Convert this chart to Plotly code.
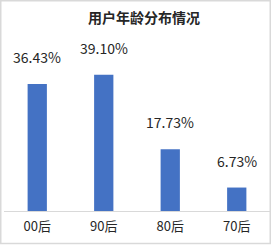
import plotly.graph_objects as go

categories = ["00后", "90后", "80后", "70后"]
values = [36.43, 39.10, 17.73, 6.73]
labels = ["36.43%", "39.10%", "17.73%", "6.73%"]
title_text = "用户年龄分布情况"

W, H = 273, 245
ML, MR, MT, MB = 4, 3, 40, 34
font_family = "Microsoft YaHei, Noto Sans CJK SC, sans-serif"

fig = go.Figure()
fig.add_trace(go.Bar(
    x=categories, y=values,
    marker=dict(color="#4472C4", line=dict(width=0)),
    width=0.29,
    hoverinfo="skip",
))

for c, v, t in zip(categories, values, labels):
    fig.add_annotation(
        x=c, y=v, xref="x", yref="y", text=t, showarrow=False,
        yanchor="bottom", yshift=15,
        font=dict(family=font_family, size=14, color="#262626"),
    )

pw = W - ML - MR
ph = H - MT - MB
def px_x(p):
    return (p - ML) / pw
def px_y(p):
    return (H - MB - p) / ph

fig.add_shape(
    type="rect", xref="paper", yref="paper",
    x0=px_x(0.75), x1=px_x(270.25), y0=px_y(243.5), y1=px_y(0.75),
    line=dict(color="#D9D9D9", width=1.5), fillcolor="rgba(0,0,0,0)",
    layer="below",
)

fig.update_layout(
    width=W, height=H,
    margin=dict(l=ML, r=MR, t=MT, b=MB),
    paper_bgcolor="white", plot_bgcolor="white",
    showlegend=False,
    title=dict(
        text="<b>" + title_text + "</b>",
        x=144 / W, xanchor="center", xref="container",
        y=1 - 18 / H, yanchor="middle", yref="container",
        font=dict(family=font_family, size=14, color="#262626"),
    ),
    xaxis=dict(
        showline=True, linecolor="#D9D9D9", linewidth=1,
        ticks="outside", ticklen=3, tickcolor="rgba(0,0,0,0)",
        tickfont=dict(family=font_family, size=13, color="#262626"),
        showgrid=False, zeroline=False, fixedrange=True,
    ),
    yaxis=dict(
        range=[0, ph / 3.486], visible=False, showgrid=False,
        zeroline=False, fixedrange=True,
    ),
)

fig.write_html("out.html")
